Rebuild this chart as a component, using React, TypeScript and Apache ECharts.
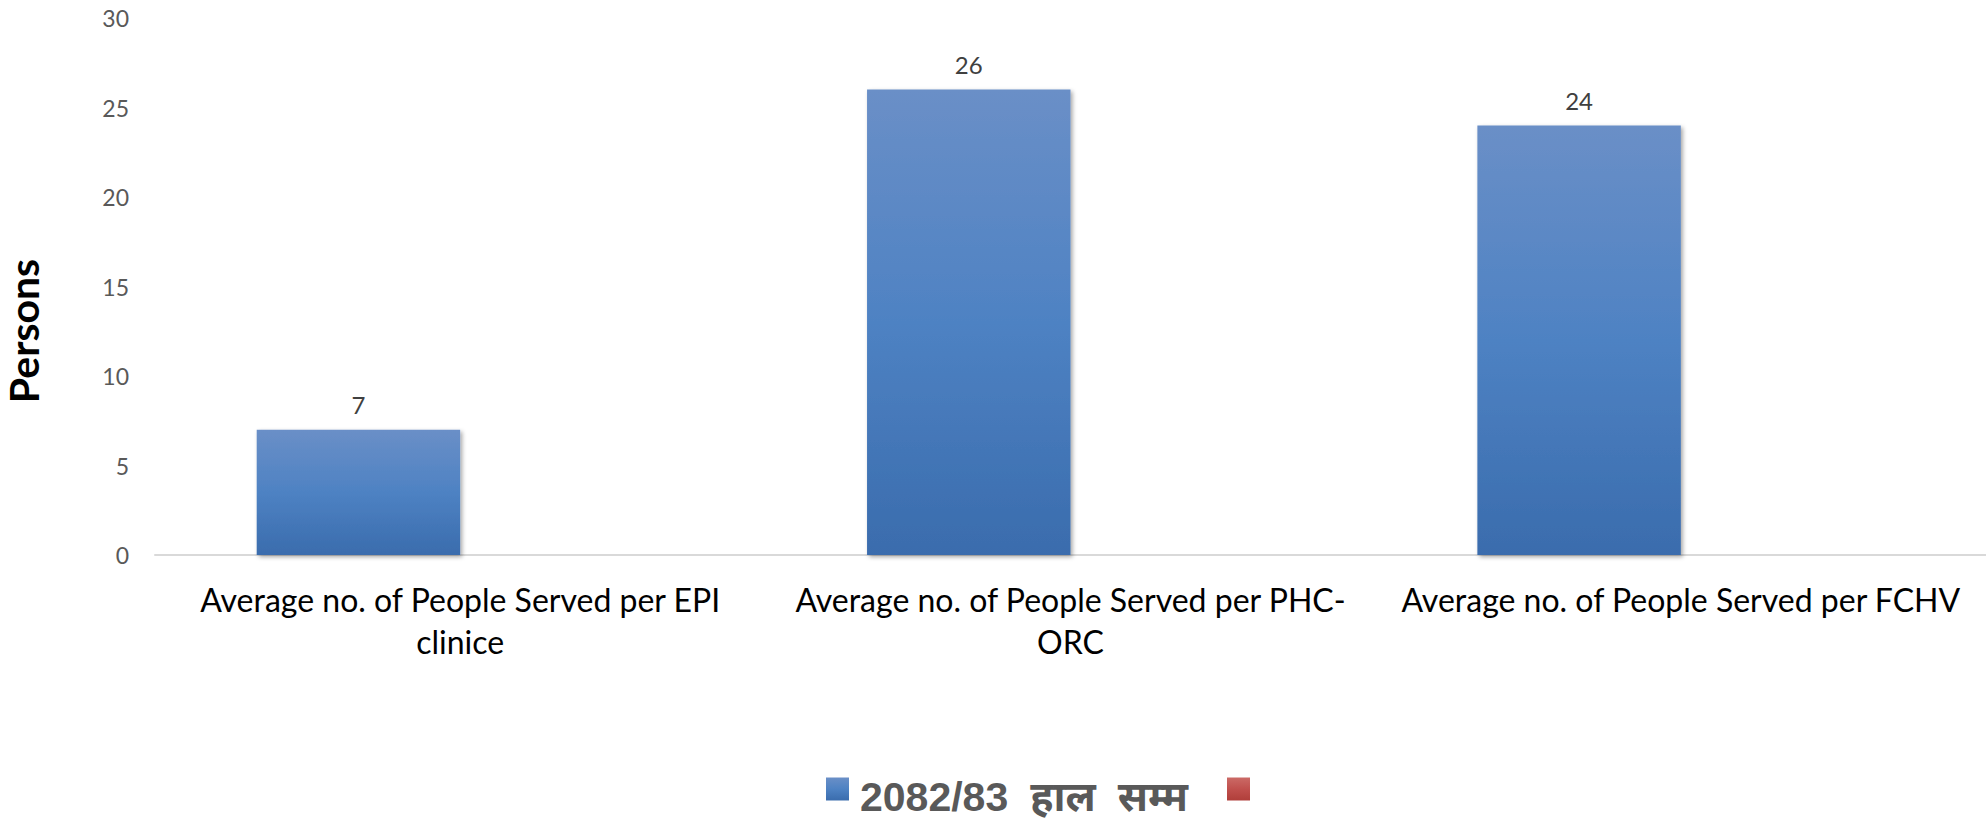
import React, { useEffect, useRef } from "react";
import * as echarts from "echarts";

const categories = [
  "Average no. of People Served per EPI\nclinice",
  "Average no. of People Served per PHC-\nORC",
  "Average no. of People Served per FCHV",
];
const seriesName = "2082/83 हाल सम्म";
const seriesValues = [7, 26, 24];
const secondSeriesName = " ";
const secondSeriesValues: (number | null)[] = [null, null, null];
const yTicks = { min: 0, max: 30, interval: 5 };
const yAxisTitle = "Persons";

const blueGrad = new echarts.graphic.LinearGradient(0, 0, 0, 1, [
  { offset: 0, color: "#6A8FC7" },
  { offset: 0.5, color: "#4E82C3" },
  { offset: 1, color: "#3A6CAD" },
]);
const redGrad = new echarts.graphic.LinearGradient(0, 0, 0, 1, [
  { offset: 0, color: "#CB6A66" },
  { offset: 0.5, color: "#C0504D" },
  { offset: 1, color: "#B03E3A" },
]);

const legendFont = "'Liberation Sans', Arial, 'Noto Sans', sans-serif";

export default function App() {
  const ref = useRef<HTMLDivElement>(null);
  useEffect(() => {
    document.body.style.margin = "0";
    if (!ref.current) return;
    const chart = echarts.init(ref.current, undefined, { renderer: "svg" });
    chart.setOption({
      animation: false,
      backgroundColor: "#ffffff",
      grid: { left: 155, right: 0, top: 18, bottom: 266, containLabel: false },
      legend: [
        {
          data: [seriesName],
          left: 826,
          top: 758,
          padding: 0,
          itemWidth: 23,
          itemHeight: 23,
          icon: "rect",
          formatter: (name: string) => {
            const parts = name.split(" ");
            return `{d|${parts[0]}}{w|${parts[1]}}{w|${parts[2]}}`;
          },
          textStyle: {
            fontFamily: legendFont,
            fontWeight: "bold",
            fontSize: 41,
            color: "#595959",
            lineHeight: 46,
            padding: [16, 0, 0, 0],
            rich: {
              d: {
                fontFamily: legendFont,
                fontWeight: "bold",
                fontSize: 41,
                color: "#595959",
                lineHeight: 46,
                padding: [0, 0, 0, 6],
              },
              w: {
                fontFamily: legendFont,
                fontWeight: "bold",
                fontSize: 41,
                color: "#595959",
                lineHeight: 46,
                padding: [0, 0, 0, 22],
              },
            },
          },
        },
        {
          data: [secondSeriesName],
          left: 1227,
          top: 758,
          padding: 0,
          itemWidth: 23,
          itemHeight: 23,
          icon: "rect",
          textStyle: { fontSize: 41, lineHeight: 46, padding: [16, 0, 0, 0] },
        },
      ],
      xAxis: {
        type: "category",
        data: categories,
        axisLine: { show: true, lineStyle: { color: "#D9D9D9", width: 2 } },
        axisTick: { show: false },
        axisLabel: {
          interval: 0,
          margin: 23,
          fontFamily: "Lato, 'Open Sans', sans-serif",
          fontSize: 32,
          lineHeight: 42,
          color: "#000000",
        },
      },
      yAxis: {
        type: "value",
        min: yTicks.min,
        max: yTicks.max,
        interval: yTicks.interval,
        axisLine: { show: false },
        axisTick: { show: false },
        splitLine: { show: false },
        axisLabel: {
          margin: 26,
          fontFamily: "Lato, 'Open Sans', sans-serif",
          fontSize: 23,
          color: "#595959",
        },
      },
      graphic: [
        {
          type: "text",
          x: 23,
          y: 331,
          rotation: Math.PI / 2,
          style: {
            text: yAxisTitle,
            fontFamily: "Lato, 'Open Sans', sans-serif",
            fontWeight: "bold",
            fontSize: 41,
            fill: "#000000",
            textAlign: "center",
            textVerticalAlign: "middle",
          },
        },
      ],
      series: [
        {
          name: seriesName,
          type: "bar",
          data: seriesValues,
          barGap: "0%",
          barCategoryGap: "33.33%",
          itemStyle: {
            color: blueGrad,
            shadowColor: "rgba(0,0,0,0.35)",
            shadowBlur: 4,
            shadowOffsetX: 2,
            shadowOffsetY: 2,
          },
          label: {
            show: true,
            position: "top",
            distance: 13,
            fontFamily: "Lato, 'Open Sans', sans-serif",
            fontSize: 24,
            color: "#404040",
          },
        },
        {
          name: secondSeriesName,
          type: "bar",
          data: secondSeriesValues,
          barGap: "0%",
          barCategoryGap: "33.33%",
          itemStyle: { color: redGrad },
        },
      ],
    });
    return () => chart.dispose();
  }, []);
  return (
    <div
      ref={ref}
      style={{ position: "absolute", left: 0, top: 0, width: 1986, height: 821 }}
    />
  );
}
